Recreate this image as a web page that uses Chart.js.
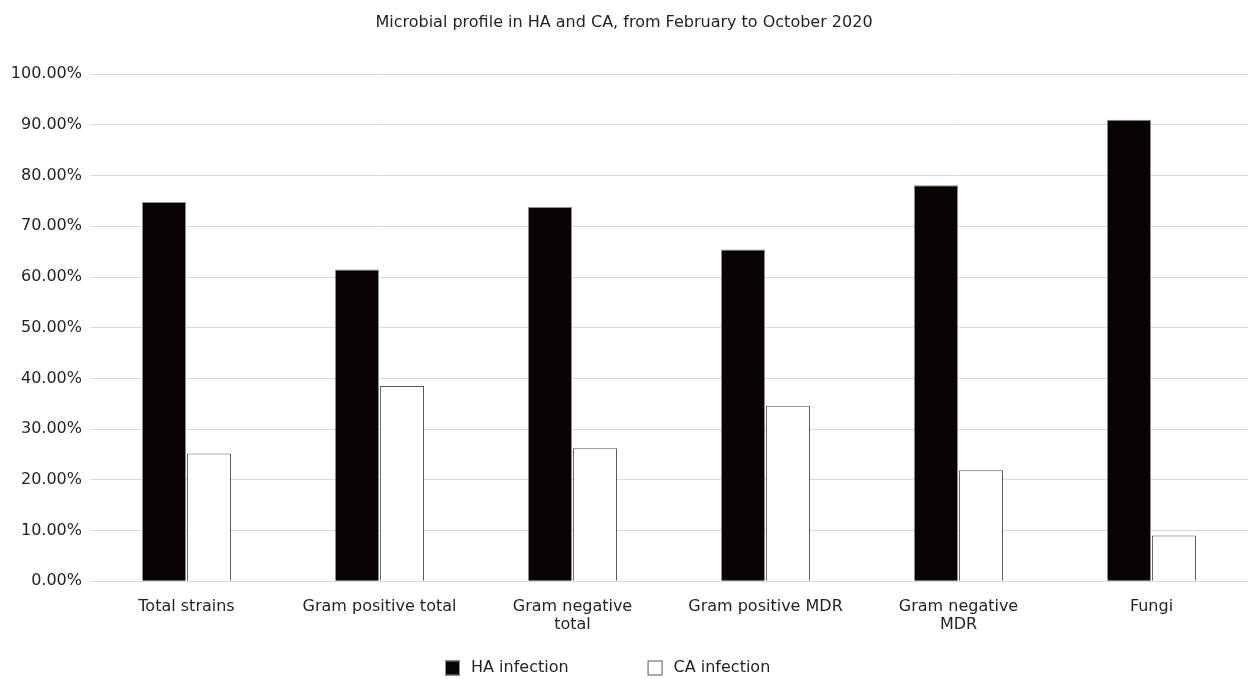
<!DOCTYPE html>
<html>
<head>
<meta charset="utf-8">
<script src="https://cdn.jsdelivr.net/npm/chart.js@4/dist/chart.umd.min.js"></script>
<style>
  html, body { margin: 0; padding: 0; background: #ffffff; }
  #wrap { width: 1248px; height: 679px; }
</style>
</head>
<body>
<div id="wrap"><canvas id="c"></canvas></div>
<script>
// Microbial groups on the category axis
const categories = [
  'Total strains',
  'Gram positive total',
  ['Gram negative', 'total'],
  'Gram positive MDR',
  ['Gram negative', 'MDR'],
  'Fungi'
];

// Share of isolates (%) by infection origin
const haInfection = [74.8, 61.5, 73.8, 65.4, 78.1, 91.0];
const caInfection = [25.2, 38.5, 26.2, 34.6, 21.9, 9.0];

const seriesNames = ['HA infection', 'CA infection'];
const yTicks = [0, 10, 20, 30, 40, 50, 60, 70, 80, 90, 100];

const FONT = 'DejaVu Sans, Verdana, sans-serif';
const TEXT = '#231f20';

// Legend drawn beneath the x-axis labels
const bottomLegend = {
  id: 'bottomLegend',
  afterDraw(chart) {
    const ctx = chart.ctx;
    const y = 668;
    const box = 15;
    const gapText = 11;
    const gapItem = 79;
    ctx.save();
    ctx.font = '16px ' + FONT;
    ctx.textBaseline = 'middle';
    ctx.textAlign = 'left';
    const items = chart.data.datasets.map(ds => ({
      text: ds.label,
      fill: ds.backgroundColor,
      stroke: ds.borderColor,
      w: box + gapText + ctx.measureText(ds.label).width
    }));
    const total = items.reduce((s, it) => s + it.w, 0) + gapItem * (items.length - 1);
    let x = Math.round(chart.width / 2 - 16 - total / 2);
    items.forEach(it => {
      ctx.fillStyle = it.fill;
      ctx.fillRect(x, y - box / 2, box, box);
      ctx.strokeStyle = it.stroke;
      ctx.lineWidth = 1;
      ctx.strokeRect(x + 0.5, y - box / 2 + 0.5, box - 1, box - 1);
      ctx.fillStyle = TEXT;
      ctx.fillText(it.text, x + box + gapText, y);
      x += it.w + gapItem;
    });
    ctx.restore();
  }
};

new Chart(document.getElementById('c'), {
  type: 'bar',
  data: {
    labels: categories,
    datasets: [
      {
        label: seriesNames[0],
        data: haInfection,
        backgroundColor: '#080302',
        borderColor: '#8a8f96',
        borderWidth: 1,
        categoryPercentage: 0.466,
        barPercentage: 0.98
      },
      {
        label: seriesNames[1],
        data: caInfection,
        backgroundColor: '#ffffff',
        borderColor: '#595959',
        borderWidth: 1,
        categoryPercentage: 0.466,
        barPercentage: 0.98
      }
    ]
  },
  options: {
    responsive: true,
    maintainAspectRatio: false,
    animation: false,
    layout: { padding: { left: 0, right: 0, top: 0, bottom: 29 } },
    plugins: {
      legend: { display: false },
      tooltip: { enabled: false },
      title: {
        display: true,
        text: 'Microbial profile in HA and CA, from February to October 2020',
        color: TEXT,
        font: { family: FONT, size: 16, weight: 'normal' },
        padding: { top: 13, bottom: 42 }
      }
    },
    scales: {
      x: {
        grid: { display: false, drawTicks: false },
        border: { display: false },
        ticks: {
          color: TEXT,
          font: { family: FONT, size: 16, lineHeight: 1.15 },
          padding: 16,
          maxRotation: 0,
          autoSkip: false
        }
      },
      y: {
        min: 0,
        max: 100,
        afterFit(scale) { scale.width = 90; },
        afterBuildTicks(scale) { scale.ticks = yTicks.map(v => ({ value: v })); },
        grid: { color: '#d9d9d9', lineWidth: 1, drawTicks: false },
        border: { display: false },
        ticks: {
          color: TEXT,
          font: { family: FONT, size: 16 },
          padding: 8,
          callback: v => v.toFixed(2) + '%'
        }
      }
    }
  },
  plugins: [bottomLegend]
});
</script>
</body>
</html>
